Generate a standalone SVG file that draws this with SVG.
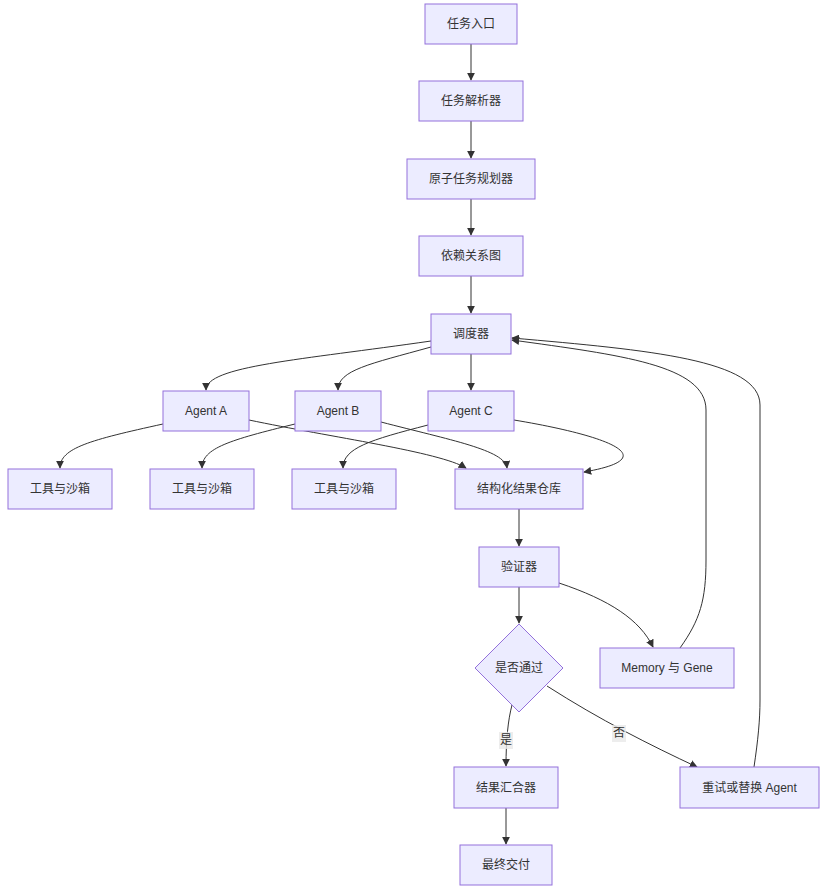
<svg xmlns="http://www.w3.org/2000/svg" width="825" height="890" viewBox="0 0 825 890">
<style>
.n rect,.n polygon{fill:#ECECFF;stroke:#9370DB;stroke-width:1}
.n text{font-family:"Liberation Sans","Noto Sans CJK SC",sans-serif;font-size:12px;fill:#333;text-anchor:middle;dominant-baseline:central}
.e path{fill:none;stroke:#333;stroke-width:1}
.lb rect{fill:#e8e8e8;fill-opacity:0.8}
.lb text{font-family:"Liberation Sans","Noto Sans CJK SC",sans-serif;font-size:12px;fill:#333;text-anchor:middle;dominant-baseline:central}
</style>
<defs>
<marker id="ah" viewBox="0 0 10 10" refX="9" refY="5" markerWidth="8" markerHeight="8" markerUnits="userSpaceOnUse" orient="auto">
<path d="M0,0 L10,5 L0,10 z" fill="#333"/>
</marker>
</defs>
<rect width="825" height="890" fill="#fff"/>
<g class="e">
<path d="M471,44 L471,80" marker-end="url(#ah)"/>
<path d="M471,121 L471,158" marker-end="url(#ah)"/>
<path d="M471,199 L471,235" marker-end="url(#ah)"/>
<path d="M471,276 L471,313" marker-end="url(#ah)"/>
<path d="M431,341 C 300,360 206,366 206,390" marker-end="url(#ah)"/>
<path d="M431,347 C 370,364 338,370 338,390" marker-end="url(#ah)"/>
<path d="M471,354 L471,390" marker-end="url(#ah)"/>
<path d="M163,424 C 90,440 60,448 60,468" marker-end="url(#ah)"/>
<path d="M249,420 C 330,437 440,452 466,468" marker-end="url(#ah)"/>
<path d="M295,424 C 230,440 202,448 202,468" marker-end="url(#ah)"/>
<path d="M381,422 C 450,440 505,450 507,468" marker-end="url(#ah)"/>
<path d="M428,425 C 370,440 343,448 343,468" marker-end="url(#ah)"/>
<path d="M514,420 C 610,436 665,458 584,472" marker-end="url(#ah)"/>
<path d="M519,509 L519,546" marker-end="url(#ah)"/>
<path d="M519,587 L519,623" marker-end="url(#ah)"/>
<path d="M559,583 C 610,600 640,620 653,647" marker-end="url(#ah)"/>
<path d="M680,648 C 700,620 706,600 706,560 L706,410 C 706,365 620,355 512,340" marker-end="url(#ah)"/>
<path d="M754,767 C 758,740 760,720 760,700 L760,405 C 760,360 650,350 512,338" marker-end="url(#ah)"/>
<path d="M512,705 C 508,720 506,740 506,766" marker-end="url(#ah)"/>
<path d="M547,686 C 600,720 650,745 697,767" marker-end="url(#ah)"/>
<path d="M506,808 L506,844" marker-end="url(#ah)"/>
</g>
<g class="lb">
<rect x="499" y="732" width="14" height="17"/><text x="506" y="740">是</text>
<rect x="612" y="725" width="14" height="17"/><text x="619" y="733">否</text>
</g>
<g id="n1" class="n"><rect x="425" y="4" width="92" height="40"/><text x="471" y="24">任务入口</text></g>
<g id="n2" class="n"><rect x="419" y="81" width="104" height="40"/><text x="471" y="101">任务解析器</text></g>
<g id="n3" class="n"><rect x="407" y="159" width="128" height="40"/><text x="471" y="179">原子任务规划器</text></g>
<g id="n4" class="n"><rect x="419" y="236" width="104" height="40"/><text x="471" y="256">依赖关系图</text></g>
<g id="n5" class="n"><rect x="431" y="314" width="80" height="40"/><text x="471" y="334">调度器</text></g>
<g id="n6" class="n"><rect x="163" y="391" width="86" height="40"/><text x="206" y="411">Agent A</text></g>
<g id="n7" class="n"><rect x="295" y="391" width="86" height="40"/><text x="338" y="411">Agent B</text></g>
<g id="n8" class="n"><rect x="428" y="391" width="86" height="40"/><text x="471" y="411">Agent C</text></g>
<g id="n9" class="n"><rect x="8" y="469" width="104" height="40"/><text x="60" y="489">工具与沙箱</text></g>
<g id="n10" class="n"><rect x="150" y="469" width="104" height="40"/><text x="202" y="489">工具与沙箱</text></g>
<g id="n11" class="n"><rect x="292" y="469" width="104" height="40"/><text x="344" y="489">工具与沙箱</text></g>
<g id="n12" class="n"><rect x="455" y="469" width="128" height="40"/><text x="519" y="489">结构化结果仓库</text></g>
<g id="n13" class="n"><rect x="479" y="547" width="80" height="40"/><text x="519" y="567">验证器</text></g>
<g id="n14" class="n"><polygon points="519,624 563,668 519,712 475,668"/><text x="519" y="668">是否通过</text></g>
<g id="n15" class="n"><rect x="600" y="648" width="134" height="40"/><text x="667" y="668">Memory 与 Gene</text></g>
<g id="n16" class="n"><rect x="680" y="767" width="139" height="41"/><text x="749.5" y="787.5">重试或替换 Agent</text></g>
<g id="n17" class="n"><rect x="454" y="767" width="104" height="41"/><text x="506" y="787.5">结果汇合器</text></g>
<g id="n18" class="n"><rect x="460" y="845" width="92" height="40"/><text x="506" y="865">最终交付</text></g>
</svg>
